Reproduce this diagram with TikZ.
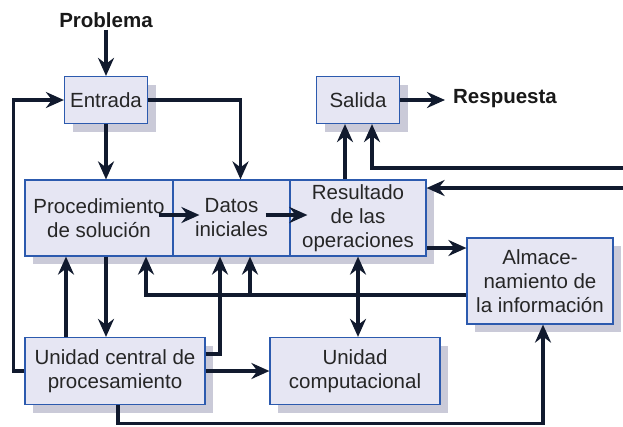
\documentclass[tikz,border=0pt]{standalone}
\usepackage{fontspec}
\setmainfont{Liberation Sans}
\usetikzlibrary{arrows.meta,shadows,calc}
\definecolor{boxfill}{HTML}{E6E6F3}
\definecolor{boxline}{HTML}{2C5AAE}
\definecolor{shade}{HTML}{CACAD8}
\definecolor{wirec}{HTML}{111A2E}
\begin{document}
\begin{tikzpicture}[x=1pt,y=-1pt,
  box/.style={draw=boxline, line width=1.2pt, fill=boxfill, align=center, inner sep=0pt,
    font=\fontsize{20.5}{24}\selectfont, text=black!85,
    drop shadow={shadow xshift=8pt, shadow yshift=-8pt, fill=shade, opacity=1}},
  lbl/.style={font=\fontsize{20.5}{24}\selectfont\bfseries, text=black!90, inner sep=2pt},
  wire/.style={draw=wirec, line width=3.2pt},
  arr/.style={wire, -{Stealth[length=18pt,width=16pt,inset=6pt]}},
  arrtwo/.style={wire, {Stealth[length=18pt,width=16pt,inset=6pt]}-{Stealth[length=18pt,width=16pt,inset=6pt]}}
]
\useasboundingbox[fill=white] (0,0) rectangle (623,426);

% boxes
\node[box, minimum width=83pt, minimum height=47pt] (entrada) at (106,100) {Entrada};
\node[box, minimum width=83pt, minimum height=47pt] (salida) at (358,100) {Salida};
\node[box, minimum width=148pt, minimum height=76pt] (proc) at (99,218) {Procedimiento\\de solución};
\node[box, minimum width=117pt, minimum height=76pt] (datos) at (231.5,218) {Datos\\iniciales};
\node[box, minimum width=136pt, minimum height=76pt] (res) at (358,218) {Resultado\\de las\\operaciones};
\node[box, minimum width=146pt, minimum height=86pt] (alm) at (540,281) {Almace-\\namiento de\\la información};
\node[box, minimum width=180pt, minimum height=67pt] (cpu) at (115,371) {Unidad central de\\procesamiento};
\node[box, minimum width=170pt, minimum height=67pt] (uc) at (355,371) {Unidad\\computacional};

% labels
\node[lbl] (prob) at (106,20) {Problema};
\node[lbl] (resp) at (505,99) {Respuesta};

% free ends at right edge
\coordinate (r1) at (623,168);
\coordinate (r2) at (623,188);

% connectors
\draw[arr] (prob.south) -- (entrada.north);
\draw[arr] (cpu.west) -- ++(-11,0) |- (entrada.west);
\draw[arr] (entrada.south) -- (entrada.south |- proc.north);
\draw[arr] (entrada.east) -| ([xshift=9pt]datos.north);
\draw[arr] ([xshift=-15pt,yshift=3pt]proc.east) -- ([xshift=27pt,yshift=3pt]datos.west);
\draw[arr] ([xshift=-25pt,yshift=3pt]datos.east) -- ([xshift=18pt,yshift=3pt]res.west);
\draw[arr] ([xshift=-13pt]res.north) -- ([xshift=-13pt]res.north |- salida.south);
\draw[arr] (r1) -| ([xshift=14pt]salida.south);
\draw[arr] (r2) -- (r2 -| res.east);
\draw[arr] (salida.east) -- ([xshift=-6pt]resp.west |- salida.east);
\draw[arr] ([yshift=-30pt]res.east) -- ([yshift=-30pt]res.east -| alm.west);
\draw[arrtwo] (res.south) -- (res.south |- uc.north);
\coordinate (bus) at ([yshift=-14pt]alm.west);
\draw[arr] (bus) -| ([xshift=47pt]proc.south);
\draw[arr] (bus) -| ([xshift=18.5pt]datos.south);
\draw[arr] ([yshift=17pt]cpu.east) -| ([xshift=-11.5pt]datos.south);
\draw[arr] ([xshift=-49pt]cpu.north) -- ([xshift=-49pt]cpu.north |- proc.south);
\draw[arr] ([xshift=7pt]proc.south) -- ([xshift=7pt]proc.south |- cpu.north);
\draw[arr] (cpu.east) -- (uc.west);
\draw[arr] ([xshift=3pt]cpu.south) -- ++(0,18) -| ([xshift=3pt]alm.south);
\end{tikzpicture}
\end{document}
